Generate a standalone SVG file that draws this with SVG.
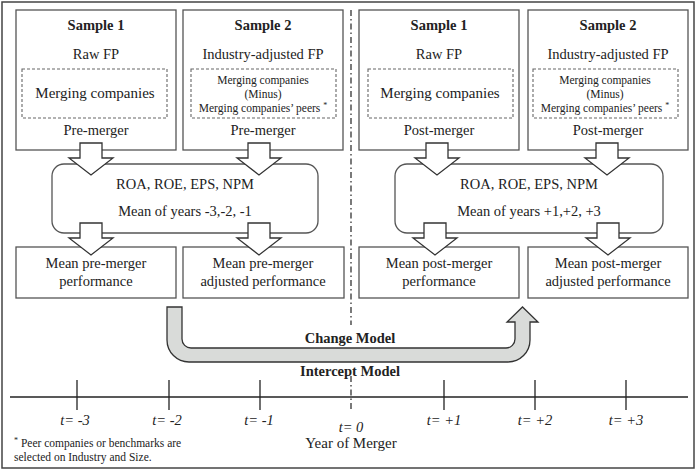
<svg xmlns="http://www.w3.org/2000/svg" xmlns:xlink="http://www.w3.org/1999/xlink" width="696" height="471" viewBox="0 0 696 471">
<style>
text{font-family:'Liberation Serif','Times New Roman','DejaVu Serif',serif;fill:#222;text-anchor:middle}
.r{font-size:14.5px}
.b{font-size:14.5px;font-weight:bold}
.s{font-size:11.5px}
.i{font-size:14.5px;font-style:italic}
.f{font-size:11.5px;text-anchor:start}
.box{fill:#fff;stroke:#555;stroke-width:1.3}
.dash{fill:none;stroke:#666;stroke-width:1.1;stroke-dasharray:3,2}
.arr{fill:#fff;stroke:#333;stroke-width:1.3;stroke-linejoin:miter}
.ax{stroke:#222;stroke-width:1.3;fill:none}
.dd{stroke:#333;stroke-width:1.3;fill:none;stroke-dasharray:6,3,1.5,3}
</style>
<defs>
<path id="ba" d="M -11,0 H 11 V 15 H 22 L 0,32 L -22,15 H -11 Z"/>
</defs>
<rect x="2" y="2" width="692" height="466" fill="#fff" stroke="#444" stroke-width="1.5"/>

<g id="pre-s1">
<rect class="box" x="16" y="10" width="160" height="140"/>
<text class="b" x="96" y="30" font-family="Liberation Serif, serif">Sample 1</text>
<text class="r" x="96" y="59">Raw FP</text>
<rect class="dash" x="22" y="69" width="145" height="49"/>
<text class="r" x="95" y="98" style="font-size:15px">Merging companies</text>
<text class="r" x="96" y="135">Pre-merger</text>
</g>
<g id="pre-s2">
<rect class="box" x="183" y="10" width="160" height="140"/>
<text class="b" x="263" y="30">Sample 2</text>
<text class="r" x="263" y="59">Industry-adjusted FP</text>
<rect class="dash" x="191" y="69" width="145" height="49"/>
<text class="s" x="263" y="84">Merging companies</text>
<text class="s" x="263" y="98">(Minus)</text>
<text class="s" x="263" y="112">Merging companies’ peers <tspan font-size="8" dy="-4">*</tspan></text>
<text class="r" x="263" y="135">Pre-merger</text>
</g>
<g id="post-s1">
<rect class="box" x="359" y="10" width="160" height="140"/>
<text class="b" x="439" y="30">Sample 1</text>
<text class="r" x="439" y="59">Raw FP</text>
<rect class="dash" x="368" y="69" width="145" height="49"/>
<text class="r" x="440" y="98" style="font-size:15px">Merging companies</text>
<text class="r" x="439" y="135">Post-merger</text>
</g>
<g id="post-s2">
<rect class="box" x="528" y="10" width="160" height="140"/>
<text class="b" x="608" y="30">Sample 2</text>
<text class="r" x="608" y="59">Industry-adjusted FP</text>
<rect class="dash" x="533" y="69" width="145" height="49"/>
<text class="s" x="605" y="84">Merging companies</text>
<text class="s" x="605" y="98">(Minus)</text>
<text class="s" x="605" y="112">Merging companies’ peers <tspan font-size="8" dy="-4">*</tspan></text>
<text class="r" x="608" y="135">Post-merger</text>
</g>

<g id="pre-metrics">
<rect class="box" x="52" y="164" width="266" height="69" rx="12"/>
<text class="r" x="185" y="189">ROA, ROE, EPS, NPM</text>
<text class="r" x="185" y="216">Mean of years -3,-2, -1</text>
</g>
<g id="post-metrics">
<rect class="box" x="395" y="164" width="268" height="69" rx="12"/>
<text class="r" x="529" y="189">ROA, ROE, EPS, NPM</text>
<text class="r" x="529" y="216">Mean of years +1,+2, +3</text>
</g>

<g id="pre-mean1">
<rect class="box" x="16" y="247" width="160" height="51"/>
<text class="r" x="96" y="268">Mean pre-merger</text>
<text class="r" x="96" y="286">performance</text>
</g>
<g id="pre-mean2">
<rect class="box" x="183" y="247" width="161" height="51"/>
<text class="r" x="263" y="268">Mean pre-merger</text>
<text class="r" x="263" y="286">adjusted performance</text>
</g>
<g id="post-mean1">
<rect class="box" x="359" y="247" width="160" height="51"/>
<text class="r" x="439" y="268">Mean post-merger</text>
<text class="r" x="439" y="286">performance</text>
</g>
<g id="post-mean2">
<rect class="box" x="528" y="247" width="160" height="51"/>
<text class="r" x="608" y="268">Mean post-merger</text>
<text class="r" x="608" y="286">adjusted performance</text>
</g>

<g id="connectors">
<use xlink:href="#ba" class="arr" x="91" y="143"/>
<use xlink:href="#ba" class="arr" x="259" y="143"/>
<use xlink:href="#ba" class="arr" x="437" y="143"/>
<use xlink:href="#ba" class="arr" x="607" y="143"/>
<use xlink:href="#ba" class="arr" x="91" y="223"/>
<use xlink:href="#ba" class="arr" x="259" y="223"/>
<use xlink:href="#ba" class="arr" x="435" y="223"/>
<use xlink:href="#ba" class="arr" x="608" y="223"/>
<path d="M 167,307 H 182 V 339 A 9 9 0 0 0 191 348 H 506 A 9 9 0 0 0 515 339 V 322 H 507 L 522.5 307 L 538 322 H 530 V 340 A 22 22 0 0 1 508 362 H 189 A 22 22 0 0 1 167 340 Z" fill="#d9dbd9" stroke="#333" stroke-width="1.3"/>
</g>

<g id="labels">
<text class="b" x="350" y="343">Change Model</text>
<text class="b" x="350" y="376">Intercept Model</text>
</g>

<g id="divider">
<line class="dd" x1="351" y1="10" x2="351" y2="325"/>
<line class="dd" x1="351" y1="376" x2="351" y2="411"/>
</g>

<g id="timeline">
<line class="ax" x1="10" y1="397" x2="688" y2="397"/>
<line class="ax" x1="77" y1="380" x2="77" y2="410"/>
<line class="ax" x1="169" y1="380" x2="169" y2="410"/>
<line class="ax" x1="260" y1="380" x2="260" y2="410"/>
<line class="ax" x1="444" y1="380" x2="444" y2="410"/>
<line class="ax" x1="535" y1="380" x2="535" y2="410"/>
<line class="ax" x1="626" y1="380" x2="626" y2="410"/>
<text class="i" x="75" y="425">t= -3</text>
<text class="i" x="167" y="425">t= -2</text>
<text class="i" x="259" y="425">t= -1</text>
<text class="i" x="351" y="432">t= 0</text>
<text class="i" x="444" y="425">t= +1</text>
<text class="i" x="535" y="425">t= +2</text>
<text class="i" x="626" y="425">t= +3</text>
<text class="r" x="351" y="448" style="font-size:15px">Year of Merger</text>
</g>

<g id="footnote">
<text class="f" x="14" y="447"><tspan font-size="8" dy="-4">*</tspan><tspan dy="4"> Peer companies or benchmarks are</tspan></text>
<text class="f" x="14" y="461">selected on Industry and Size.</text>
</g>
</svg>
